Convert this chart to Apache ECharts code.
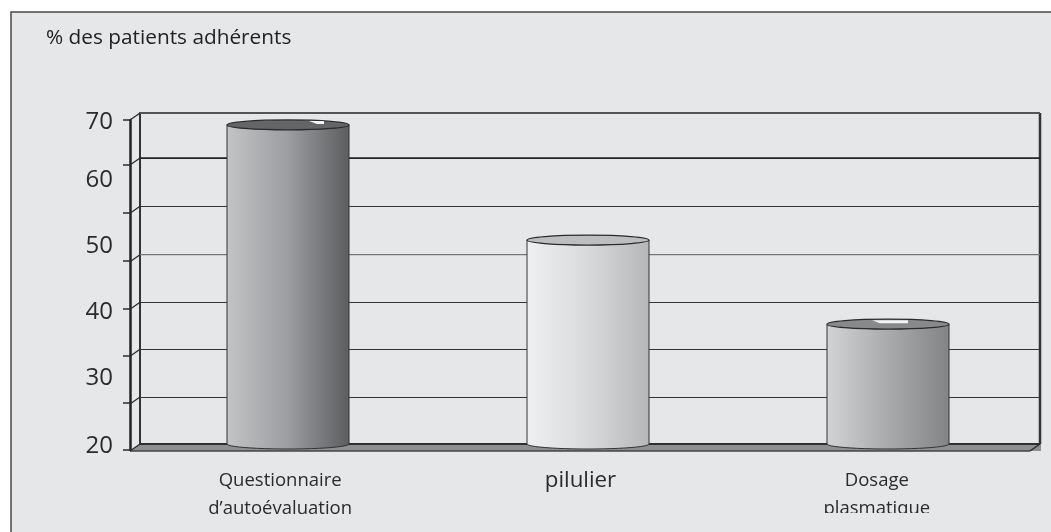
<!DOCTYPE html>
<html><head><meta charset="utf-8">
<style>html,body{margin:0;padding:0;background:#fff}#c{width:1051px;height:532px}</style>
<script src="https://cdn.jsdelivr.net/npm/echarts@6/dist/echarts.min.js"></script>
</head><body><div id="c"></div>
<script>
const title = "% des patients adhérents";
const categories = ["Questionnaire\nd’autoévaluation", "pilulier", "Dosage\nplasmatique"];
const values = [68.2, 50.8, 38.1];
const axisTicks = [20, 27.1, 34.3, 41.4, 48.6, 55.9, 63.2, 70];
const labelAnchors = [20.6, 30.9, 40.9, 50.9, 60.9, 69.7];

const font = "'Open Sans'";
const ink = "#2b2a2c";
const barLooks = [
  {stops:["#c3c4c6","#9c9da0","#5c5d5f"], top:"#646567", hi:[21,36]},
  {stops:["#eff0f1","#d8d9da","#b6b7b9"], top:"#bdbec0", hi:null},
  {stops:["#d2d3d5","#a9aaac","#838486"], top:"#88898b", hi:[-16,20]}
];
const gridAccents = {7:{stroke:"#555",lineWidth:2}, 6:{stroke:"#222",lineWidth:1.6}, 4:{stroke:"#777",lineWidth:1.2}};
const DX = 10, DY = 7;

function renderFrame(params, api){
  const cs = params.coordSys;
  const y = api.coord([0, api.value(0)])[1];
  const children = [{type:'line', shape:{x1:cs.x-DX, y1:y+DY, x2:cs.x, y2:y}, style:{stroke:ink, lineWidth:1.3}}];
  const accent = gridAccents[params.dataIndex];
  if (accent) children.push({type:'line', shape:{x1:cs.x, y1:y, x2:cs.x+cs.width, y2:y}, style:accent});
  if (params.dataIndex === 0) {
    const b = cs.y + cs.height, r = cs.x + cs.width;
    children.unshift(
      {type:'polygon', shape:{points:[[cs.x-DX,b+DY],[cs.x,b],[r+1,b],[r+1,b+DY]]}, style:{fill:"#8e8f91"}},
      {type:'line', shape:{x1:cs.x, y1:b, x2:r, y2:b}, style:{stroke:"#2f2e30", lineWidth:2.2}},
      {type:'line', shape:{x1:cs.x-DX, y1:b+DY, x2:r-DX, y2:b+DY}, style:{stroke:"#444", lineWidth:1.5}},
      {type:'line', shape:{x1:r-DX, y1:b+DY, x2:r, y2:b}, style:{stroke:ink, lineWidth:1.5}},
      {type:'line', shape:{x1:r, y1:cs.y, x2:r, y2:b}, style:{stroke:"#333", lineWidth:2.5}}
    );
  }
  return {type:'group', children};
}

function renderCylinder(params, api){
  const i = api.value(0), look = barLooks[i];
  const top = api.coord([i, api.value(1)]), base = api.coord([i, 20]);
  const cx = top[0] - 2, rx = 61, ry = 5;
  const pts = [[cx-rx, top[1]], [cx+rx, top[1]]];
  for (let k = 0; k <= 24; k++) {
    const a = Math.PI * k / 24;
    pts.push([cx + rx*Math.cos(a), base[1] + ry*Math.sin(a)]);
  }
  const s = look.stops;
  const children = [
    {type:'polygon', shape:{points:pts}, style:{
      stroke:"#333", lineWidth:1,
      fill:{type:'linear',x:0,y:0,x2:1,y2:0,colorStops:[{offset:0,color:s[0]},{offset:.5,color:s[1]},{offset:1,color:s[2]}]}}},
    {type:'ellipse', shape:{cx, cy:top[1], rx, ry}, style:{fill:look.top, stroke:"#2b2a2c", lineWidth:1.2}}
  ];
  if (look.hi) {
    const [a,b] = look.hi, t = top[1];
    children.push({type:'polygon', shape:{points:[[cx+a,t-4],[cx+b,t-4],[cx+b,t-1],[cx+a+8,t-1]]}, style:{fill:"#f4f5f5"}});
  }
  return {type:'group', children};
}

const chart = echarts.init(document.getElementById('c'), null, {renderer:'canvas'});
chart.setOption({
  animation:false,
  backgroundColor:"#fff",
  title:{text:title, left:46, top:28, padding:0,
    textStyle:{fontFamily:font, fontSize:20.8, fontWeight:'normal', color:"#222"}},
  graphic:[
    {type:'rect', z:-10, shape:{x:11,y:12,width:1060,height:540}, style:{fill:"#e6e7e9", stroke:"#4a4a4c", lineWidth:1.5}},
    {type:'rect', z:100, shape:{x:815,y:513,width:125,height:19}, style:{fill:"#e6e7e9"}}
  ],
  grid:[
    {left:130, top:120, width:901, height:330},
    {left:140, top:113, width:900, height:331}
  ],
  xAxis:[
    {type:'category', gridIndex:0, data:[
        {value:categories[0], textStyle:{fontSize:18.5}},
        {value:categories[1], textStyle:{fontSize:22.3, padding:[0,0,22,0]}},
        {value:categories[2], textStyle:{fontSize:18.5, padding:[0,8,0,0]}}],
      axisLine:{lineStyle:{color:"#444", width:1.5}},
      axisTick:{length:7, lineStyle:{color:ink, width:1.5}},
      axisLabel:{interval:0, margin:17, color:ink, fontFamily:font, lineHeight:28, hideOverlap:false}},
    {type:'category', gridIndex:1, data:categories, show:false}
  ],
  yAxis:[
    {type:'value', gridIndex:0, min:20, max:70,
      axisLine:{show:true, lineStyle:{color:"#222", width:2.5}},
      axisTick:{show:true, length:7, customValues:axisTicks, lineStyle:{color:ink, width:1.5}},
      splitLine:{show:false},
      axisLabel:{show:true, customValues:labelAnchors, margin:17, color:ink, fontFamily:font, fontSize:24,
        formatter:v=>String(Math.round(v/10)*10)}},
    {type:'value', gridIndex:1, min:20, max:70,
      axisLine:{show:true, lineStyle:{color:"#333", width:2}},
      axisTick:{show:false, customValues:axisTicks},
      axisLabel:{show:false},
      splitLine:{show:true, lineStyle:{color:"#333", width:1}}}
  ],
  series:[
    {type:'custom', xAxisIndex:1, yAxisIndex:1, z:1, clip:false, silent:true,
      data:axisTicks.map(t=>[t]), encode:{y:0}, renderItem:renderFrame},
    {type:'custom', xAxisIndex:1, yAxisIndex:1, z:3, clip:false,
      data:values.map((v,i)=>[i,v]), encode:{x:0,y:1}, renderItem:renderCylinder}
  ]
});
</script></body></html>
